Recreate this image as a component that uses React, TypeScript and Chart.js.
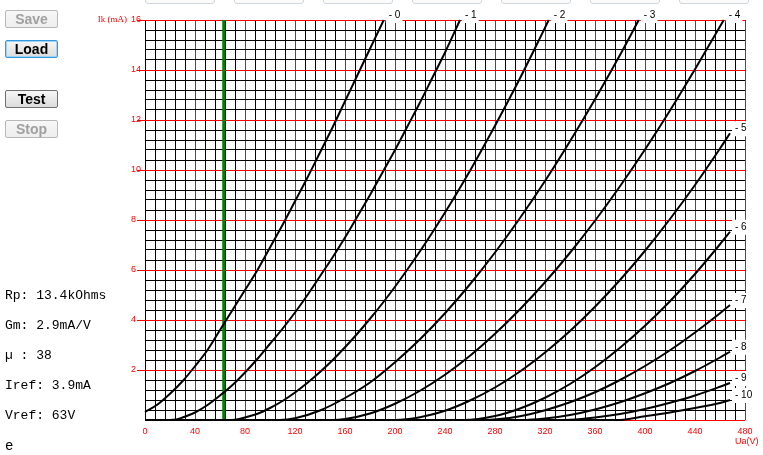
import React, { useEffect, useRef } from "react";
import { Chart, registerables } from "chart.js";

Chart.register(...registerables);

// ---- data ----
const gridLabels = ["- 0", "- 1", "- 2", "- 3", "- 4", "- 5", "- 6", "- 7", "- 8", "- 9", "- 10"];

const c0V = [0, 10, 20, 30, 40, 50, 60, 70, 80, 90, 100, 110, 120, 130, 140, 150, 160, 170, 180, 191];
const c0I = [0.32, 0.62, 1.05, 1.55, 2.15, 2.8, 3.6, 4.4, 5.2, 6.0, 6.9, 7.8, 8.75, 9.7, 10.7, 11.7, 12.75, 13.8, 14.85, 16];

const c1V = [0, 20, 25, 30, 40, 50, 60, 70, 80, 90, 100, 110, 120, 130, 140, 150, 160, 170, 180, 190, 200, 210, 220, 230, 240, 252];
const c1I = [0, 0, 0.02, 0.1, 0.3, 0.6, 0.98, 1.4, 1.9, 2.45, 3.05, 3.65, 4.3, 5.0, 5.75, 6.5, 7.3, 8.15, 9.0, 9.9, 10.8, 11.75, 12.7, 13.7, 14.7, 16];

const c2V = [0, 70, 80, 90, 100, 110, 120, 130, 140, 150, 160, 170, 180, 190, 200, 210, 220, 230, 240, 250, 260, 270, 280, 290, 300, 310, 323];
const c2I = [0, 0, 0.1, 0.25, 0.48, 0.76, 1.1, 1.49, 1.92, 2.39, 2.91, 3.46, 4.05, 4.67, 5.33, 6.03, 6.75, 7.51, 8.3, 9.12, 9.97, 10.86, 11.77, 12.71, 13.67, 14.67, 16];

const c3V = [0, 108, 120, 140, 160, 180, 200, 220, 240, 260, 280, 300, 320, 340, 360, 380, 395];
const c3I = [0, 0, 0.07, 0.38, 0.88, 1.5, 2.31, 3.23, 4.27, 5.43, 6.7, 8.08, 9.56, 11.15, 12.83, 14.6, 16];

const c4V = [0, 150, 160, 180, 200, 220, 240, 260, 280, 300, 320, 340, 360, 380, 400, 420, 440, 463];
const c4I = [0, 0, 0.04, 0.26, 0.65, 1.17, 1.81, 2.57, 3.45, 4.43, 5.51, 6.69, 7.97, 9.35, 10.82, 12.38, 14.03, 16];

const c5V = [0, 200, 220, 240, 260, 280, 300, 320, 340, 360, 380, 400, 420, 440, 460, 468];
const c5I = [0, 0, 0.11, 0.37, 0.78, 1.3, 1.94, 2.7, 3.56, 4.53, 5.6, 6.77, 8.04, 9.4, 10.86, 11.47];

const c6V = [0, 255, 280, 300, 320, 340, 360, 380, 400, 420, 440, 460, 468];
const c6I = [0, 0, 0.16, 0.46, 0.89, 1.44, 2.11, 2.89, 3.77, 4.75, 5.84, 7.03, 7.53];

const c7V = [0, 270, 300, 320, 340, 360, 380, 400, 420, 440, 460, 468];
const c7I = [0, 0, 0.15, 0.39, 0.71, 1.11, 1.6, 2.16, 2.79, 3.5, 4.27, 4.6];

const c8V = [0, 301, 320, 340, 360, 380, 400, 420, 440, 460, 468];
const c8I = [0, 0, 0.06, 0.2, 0.42, 0.71, 1.07, 1.48, 1.96, 2.5, 2.73];

const c9V = [0, 330, 340, 360, 380, 400, 420, 440, 460, 468];
const c9I = [0, 0, 0.01, 0.1, 0.24, 0.44, 0.69, 0.98, 1.33, 1.48];

const c10V = [0, 378, 400, 420, 440, 460, 468];
const c10I = [0, 0, 0.15, 0.3, 0.48, 0.68, 0.8];

const curveV = [c0V, c1V, c2V, c3V, c4V, c5V, c6V, c7V, c8V, c9V, c10V];
const curveI = [c0I, c1I, c2I, c3I, c4I, c5I, c6I, c7I, c8I, c9I, c10I];

const vref = 63;
const xLabels = [0, 40, 80, 120, 160, 200, 240, 280, 320, 360, 400, 440, 480];
const yLabels = [2, 4, 6, 8, 10, 12, 14, 16];

const infoLines = ["Rp: 13.4kOhms", "Gm: 2.9mA/V", "\u00b5 : 38", "Iref: 3.9mA", "Vref: 63V"];
const topButtonsX = [145, 234, 323, 412, 501, 590, 679];

const RED = "#ff0000";
const isMult = (v: number, m: number) => Math.abs(v / m - Math.round(v / m)) < 1e-6;

const labelPlugin = {
  id: "tracerLabels",
  afterDraw(chart: any) {
    const ctx = chart.ctx as CanvasRenderingContext2D;
    const xs = chart.scales.x;
    const ys = chart.scales.y;
    const area = chart.chartArea;
    ctx.save();
    ctx.fillStyle = RED;
    ctx.font = '9px "Liberation Sans"';
    ctx.textBaseline = "middle";
    ctx.textAlign = "center";
    xLabels.forEach((v) => ctx.fillText(String(v), xs.getPixelForValue(v), area.bottom + 12));
    ctx.textAlign = "left";
    yLabels.forEach((v) => ctx.fillText(String(v), area.left - 14, ys.getPixelForValue(v)));
    ctx.textAlign = "right";
    ctx.font = '9px "Liberation Serif"';
    ctx.fillText("Ik (mA)", area.left - 18, ys.getPixelForValue(16));
    ctx.textAlign = "left";
    ctx.font = '9px "Liberation Sans"';
    ctx.fillText("Ua(V)", area.right - 10, area.bottom + 22);

    // curve labels
    ctx.font = '10px "Liberation Sans"';
    for (let i = 0; i < curveV.length; i++) {
      const vv = curveV[i];
      const ii = curveI[i];
      const px = xs.getPixelForValue(vv[vv.length - 1]);
      const py = ys.getPixelForValue(ii[ii.length - 1]);
      const tw = ctx.measureText(gridLabels[i]).width;
      ctx.fillStyle = "#ffffff";
      ctx.fillRect(px + 2, py - 12, tw + 5, 15);
      ctx.fillStyle = "#000000";
      ctx.fillText(gridLabels[i], px + 5, py - 5);
    }
    ctx.restore();
  },
};

export default function App() {
  const ref = useRef<HTMLCanvasElement>(null);
  useEffect(() => {
    const datasets: any[] = curveV.map((vv, k) => ({
      label: gridLabels[k],
      data: vv.map((v, j) => ({ x: v, y: curveI[k][j] })),
      borderColor: "#000000",
      borderWidth: 2,
      pointRadius: 0,
      cubicInterpolationMode: "monotone",
      clip: 4,
    }));
    datasets.push({
      label: "Vref",
      data: [
        { x: vref, y: 0 },
        { x: vref, y: 16 },
      ],
      borderColor: "#008000",
      borderWidth: 3,
      pointRadius: 0,
    });
    const chart = new Chart(ref.current as HTMLCanvasElement, {
      type: "line",
      data: { datasets },
      plugins: [labelPlugin],
      options: {
        responsive: false,
        animation: false,
        devicePixelRatio: 1,
        layout: { padding: { left: 0, top: 20, right: 18, bottom: 0 } },
        plugins: { legend: { display: false }, tooltip: { enabled: false } },
        scales: {
          x: {
            type: "linear",
            min: 0,
            max: 480,
            ticks: { stepSize: 8, display: false, autoSkip: false },
            grid: {
              color: (c: any) => (c.tick.value === 0 ? "#000000" : isMult(c.tick.value, 40) ? RED : "#000000"),
              lineWidth: 1,
              drawTicks: false,
            },
            border: { display: false },
            afterFit: (s: any) => {
              s.height = 35;
            },
          },
          y: {
            type: "linear",
            min: 0,
            max: 16,
            ticks: { stepSize: 0.4, display: false, autoSkip: false },
            grid: {
              color: (c: any) => (isMult(c.tick.value, 2) ? RED : "#000000"),
              tickColor: (c: any) => (isMult(c.tick.value, 2) && c.tick.value > 0 ? RED : "rgba(0,0,0,0)"),
              lineWidth: 1,
              drawTicks: true,
              tickLength: 8,
            },
            border: { display: false },
            afterFit: (s: any) => {
              s.width = 145;
            },
          },
        },
      } as any,
    });
    return () => chart.destroy();
  }, []);

  const btn = (label: string, top: number, enabled: boolean, focused: boolean) => (
    <div
      key={label}
      style={{
        position: "absolute",
        left: 5,
        top,
        width: 51,
        height: 16,
        boxSizing: "content-box",
        border: focused ? "1px solid #3399dd" : enabled ? "1px solid #707070" : "1px solid #b8b8b8",
        boxShadow: focused ? "0 0 0 1px #9fd3f5 inset" : "none",
        borderRadius: 2,
        background: enabled ? "linear-gradient(#f6f6f6, #dcdcdc)" : "linear-gradient(#f7f7f7, #eeeeee)",
        color: enabled ? "#000000" : "#a0a0a0",
        font: 'bold 14px "Liberation Sans", Arial, sans-serif',
        textAlign: "center",
        lineHeight: "16px",
      }}
    >
      {label}
    </div>
  );

  return (
    <div style={{ position: "fixed", left: 0, top: 0, width: 763, height: 455, background: "#ffffff", overflow: "hidden" }}>
      <canvas ref={ref} width={763} height={455} style={{ position: "absolute", left: 0, top: 0, width: 763, height: 455 }} />
      {topButtonsX.map((x) => (
        <div
          key={x}
          style={{ position: "absolute", left: x, top: -20, width: 68, height: 22, border: "1px solid #cfd6de", borderRadius: 3, background: "#fbfbfb" }}
        />
      ))}
      {btn("Save", 10, false, false)}
      {btn("Load", 40, true, true)}
      {btn("Test", 90, true, false)}
      {btn("Stop", 120, false, false)}
      {infoLines.map((t, i) => (
        <div
          key={t}
          style={{ position: "absolute", left: 5, top: 288 + i * 30, font: '13px "Liberation Mono", monospace', color: "#000", whiteSpace: "pre", lineHeight: "16px" }}
        >
          {t}
        </div>
      ))}
      <div style={{ position: "absolute", left: 5, top: 438, font: '14px "Liberation Mono", monospace', color: "#000", lineHeight: "16px" }}>e</div>
    </div>
  );
}
